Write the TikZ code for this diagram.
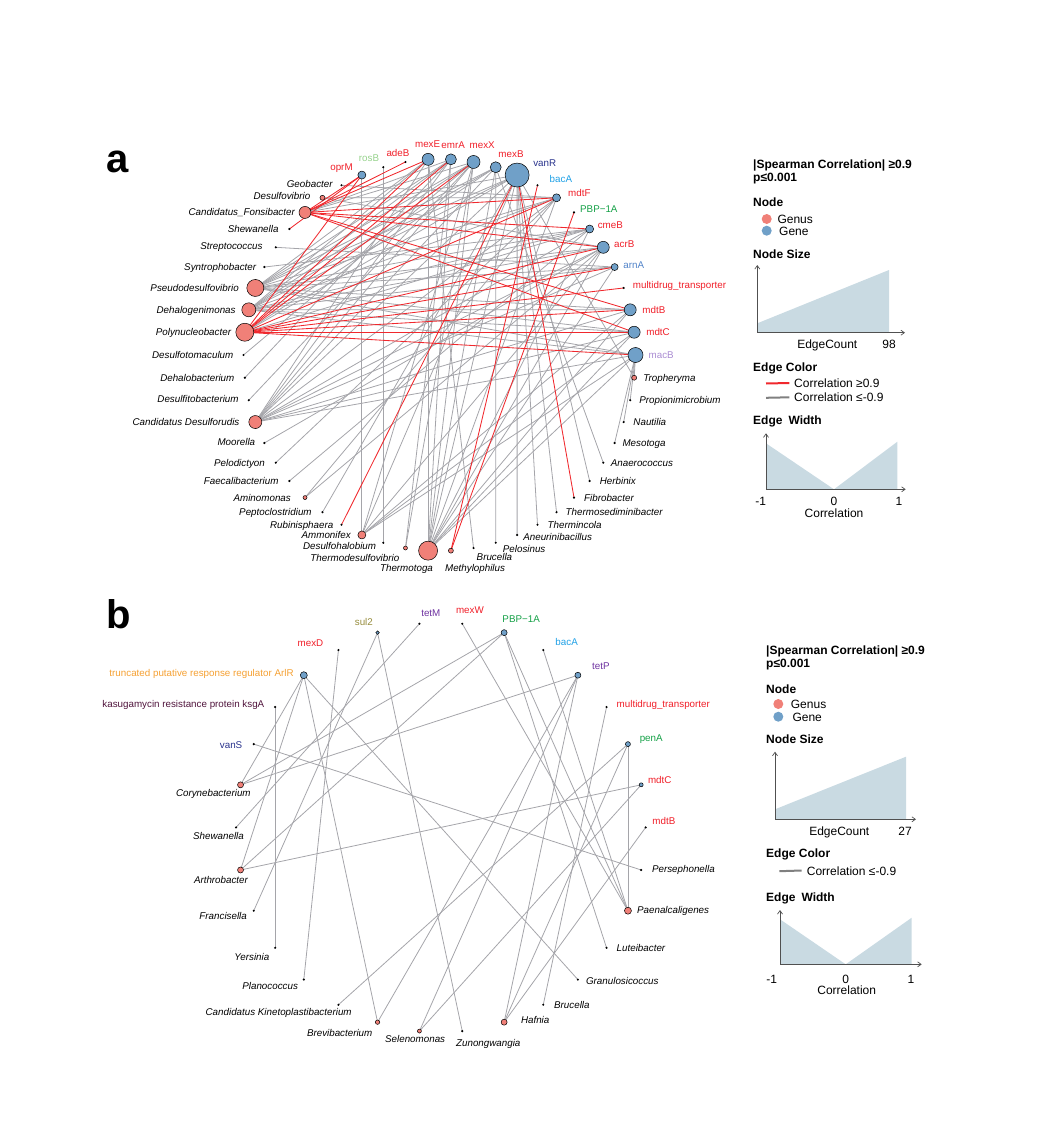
\documentclass[tikz,border=0pt]{standalone}
\usepackage{fontspec}
\setmainfont{Liberation Sans}
\usetikzlibrary{arrows.meta,backgrounds}

\definecolor{genusfill}{RGB}{240,128,120}
\definecolor{genefill}{RGB}{112,160,200}
\definecolor{legfill}{RGB}{201,218,226}
\definecolor{edgegrey}{RGB}{165,165,170}
\definecolor{edgered}{RGB}{240,40,45}
\definecolor{labred}{RGB}{240,30,40}
\definecolor{labnavy}{RGB}{40,50,140}
\definecolor{labsky}{RGB}{30,160,230}
\definecolor{labgreen}{RGB}{20,160,70}
\definecolor{lablgreen}{RGB}{150,210,140}
\definecolor{labblue}{RGB}{80,130,200}
\definecolor{labpurple}{RGB}{170,140,210}
\definecolor{labviolet}{RGB}{110,50,160}
\definecolor{labolive}{RGB}{150,140,60}
\definecolor{laborange}{RGB}{245,160,50}
\definecolor{labplum}{RGB}{80,20,60}
\definecolor{axisgrey}{RGB}{80,80,80}

\newcommand\lfont{\fontsize{9.8}{11}\selectfont}
\newcommand\gfont{\fontsize{12}{14}\selectfont}

\tikzset{
  genus/.style={circle, draw=black, line width=0.5pt, fill=genusfill, inner sep=0pt},
  gene/.style={circle, draw=black, line width=0.5pt, fill=genefill, inner sep=0pt},
  dotn/.style={circle, fill=black, inner sep=0pt},
  lab/.style={font=\lfont, inner sep=0pt, text height=7pt, text depth=0pt},
  gen/.style={lab, font=\lfont\itshape, text=black},
  lred/.style={lab, text=labred},
  lnavy/.style={lab, text=labnavy},
  lsky/.style={lab, text=labsky},
  lgreen/.style={lab, text=labgreen},
  llgreen/.style={lab, text=lablgreen},
  lblue/.style={lab, text=labblue},
  lpurple/.style={lab, text=labpurple},
  lviolet/.style={lab, text=labviolet},
  lolive/.style={lab, text=labolive},
  lorange/.style={lab, text=laborange},
  lplum/.style={lab, text=labplum},
  posedge/.style={draw=edgered, line width=0.85pt},
  negedge/.style={draw=edgegrey, line width=0.8pt},
  legtitle/.style={font=\gfont\bfseries, anchor=west, inner sep=0pt, text height=8.6pt, text depth=0pt},
  legtext/.style={font=\gfont, anchor=west, inner sep=0pt, text height=8.6pt, text depth=0pt},
  legaxis/.style={draw=axisgrey, line width=0.7pt, -{Straight Barb[length=3.5pt,width=5pt]}},
  legdot/.style={circle, inner sep=0pt, minimum size=10pt},
  panel/.style={font=\fontsize{40}{40}\selectfont\bfseries, inner sep=0pt}
}

\begin{document}
\begin{tikzpicture}[x=1pt,y=-1pt]
  \useasboundingbox (0,0) rectangle (1050,1142);

  % panel a
  \node[panel] (pa) at (118,162) {a};
  \coordinate (ca) at (439.5,355);
  \foreach \i/\txt/\r/\kind/\ls/\anc/\dx/\dy in {
    0/macB/7.5/gene/lpurple/west/13/0,
    1/Tropheryma/2.5/genus/gen/west/9/0,
    2/Propionimicrobium/1.2/dotn/gen/west/9/0,
    3/Nautilia/1.2/dotn/gen/west/9.6/0,
    4/Mesotoga/1.2/dotn/gen/west/7.7/0,
    5/Anaerococcus/1.2/dotn/gen/west/7.4/0,
    6/Herbinix/1.2/dotn/gen/west/10/0,
    7/Fibrobacter/1.2/dotn/gen/west/10/0,
    8/Thermosediminibacter/1.2/dotn/gen/west/9/0,
    9/Thermincola/1.2/dotn/gen/west/10/0,
    10/Aneurinibacillus/1.2/dotn/gen/west/6/2,
    11/Pelosinus/1.2/dotn/gen/west/7/6,
    12/Brucella/1.2/dotn/gen/west/3/9,
    13/Methylophilus/2.5/genus/gen/west/-6/17,
    14/Thermotoga/9.5/genus/gen/east/5/17,
    15/Thermodesulfovibrio/2/genus/gen/east/-6/9.5,
    16/Desulfohalobium/1.2/dotn/gen/east/-7/3,
    17/Ammonifex/4/genus/gen/east/-11/0,
    18/Rubinisphaera/1.2/dotn/gen/east/-8/0,
    19/Peptoclostridium/1.2/dotn/gen/east/-10.6/0,
    20/Aminomonas/2/genus/gen/east/-14/0,
    21/Faecalibacterium/1.2/dotn/gen/east/-10.7/0,
    22/Pelodictyon/1.2/dotn/gen/east/-10.7/0,
    23/Moorella/1.2/dotn/gen/east/-9/-1,
    24/Candidatus Desulforudis/6.5/genus/gen/east/-15.7/0,
    25/Desulfitobacterium/1.2/dotn/gen/east/-10/-1,
    26/Dehalobacterium/1.2/dotn/gen/east/-10.3/0,
    27/Desulfotomaculum/1.2/dotn/gen/east/-10/0,
    28/Polynucleobacter/9/genus/gen/east/-13.6/0,
    29/Dehalogenimonas/7/genus/gen/east/-13/0,
    30/Pseudodesulfovibrio/8.5/genus/gen/east/-16.4/0,
    31/Syntrophobacter/1.2/dotn/gen/east/-8/0,
    32/Streptococcus/1.2/dotn/gen/east/-13/-1,
    33/Shewanella/1.2/dotn/gen/east/-10.7/0,
    34/Candidatus\_Fonsibacter/6/genus/gen/east/-10/0,
    35/Desulfovibrio/2.5/genus/gen/east/-12/-1.7,
    36/Geobacter/1.2/dotn/gen/east/-8.7/-1.7,
    37/oprM/4/gene/lred/east/-9/-8,
    38/rosB/1.2/dotn/llgreen/east/-4/-9,
    39/adeB/1.2/dotn/lred/center/-7.5/-8.7,
    40/mexE/6/gene/lred/center/-0.5/-15,
    41/emrA/5.5/gene/lred/center/2.3/-14,
    42/mexX/6.5/gene/lred/center/8.7/-16.7,
    43/mexB/5.5/gene/lred/center/15.3/-13.7,
    44/vanR/12/gene/lnavy/west/16/-12,
    45/bacA/1.2/dotn/lsky/west/12/-6,
    46/mdtF/4/gene/lred/west/11.5/-5,
    47/PBP−1A/1.2/dotn/lgreen/west/6/-3,
    48/cmeB/4/gene/lred/west/8/-4,
    49/acrB/6/gene/lred/west/10.7/-3,
    50/arnA/3.5/gene/lblue/west/8.6/-1.7,
    51/multidrug\_transporter/1.2/dotn/lred/west/9/-3,
    52/mdtB/6/gene/lred/west/12/0,
    53/mdtC/6/gene/lred/west/12/0}{
    \pgfmathsetmacro\ang{\i*6.666667}
    \node[\kind, minimum size=2*\r] (a\i) at ([shift={(\ang:196)}]ca) {};
    \node[\ls, anchor=\anc] (la\i) at ([shift={(\dx,\dy)}]a\i.center) {\txt};
  }

  \begin{pgfonlayer}{background}
    % negative correlations
    \foreach \s/\t in {30/40,30/41,30/42,30/43,30/44,30/46,30/48,30/49,30/50,30/52,30/53,30/0,
      29/40,29/41,29/42,29/43,29/44,29/46,29/48,29/49,29/50,29/52,29/53,29/0,
      24/40,24/41,24/42,24/43,24/44,24/46,24/48,24/49,24/50,24/52,24/53,24/0,
      14/40,14/41,14/42,14/43,14/44,14/46,14/48,14/49,14/50,14/52,14/53,14/0,
      28/43,28/44,28/48,34/44,34/41,34/42,
      17/37,17/42,17/44,17/49,17/52,17/53,17/0,1/44,1/0,
      0/2,0/3,0/4,44/6,44/8,44/9,44/10,44/19,43/5,43/11,
      12/40,38/16,36/46,35/46,35/49,21/48,22/46,23/49,20/49,20/46,
      25/42,26/41,27/42,31/48,32/50,15/42,15/41}
      \draw[negedge] (a\s.center) -- (a\t.center);
    % positive correlations
    \foreach \s/\t in {34/37,34/39,34/40,34/46,34/48,34/49,34/52,34/53,33/37,
      28/37,28/40,28/41,28/42,28/46,28/49,28/50,28/51,28/52,28/53,28/0,
      13/45,13/47,18/44,7/44}
      \draw[posedge] (a\s.center) -- (a\t.center);
  \end{pgfonlayer}

  % legend a
  \node[legtitle] (lta) at (753,164) {|Spearman Correlation| ≥0.9};
  \node[legtitle] (lpa) at (753,177.3) {p≤0.001};
  \node[legtitle] (lna) at (753,202.3) {Node};
  \node[legdot, fill=genusfill] (lga) at (766.7,219) {};
  \node[legtext] at (777.3,219) {Genus};
  \node[legdot, fill=genefill] (lea) at (766.7,230.7) {};
  \node[legtext] at (779,230.7) {Gene};
  \node[legtitle] at (753,254) {Node Size};
  \fill[legfill] (757.3,332.7) -- (757.3,323.3) -- (889,270) -- (889,332.7) -- cycle;
  \draw[legaxis] (757.3,332.7) -- (757.3,265);
  \draw[legaxis] (757.3,332.7) -- (905,332.7);
  \node[legtext, anchor=center] at (827.3,344) {EdgeCount};
  \node[legtext, anchor=center] at (889,344) {98};
  \node[legtitle] at (753,367.3) {Edge Color};
  \draw[edgered, line width=2pt] (766,383.5) -- (789.3,383);
  \node[legtext] at (794,382.7) {Correlation ≥0.9};
  \draw[gray, line width=2pt] (766,397.8) -- (789.3,397.3);
  \node[legtext] at (794,397.3) {Correlation ≤-0.9};
  \node[legtitle] at (753,420) {Edge\enspace Width};
  \fill[legfill] (766,489.3) -- (766,443.3) -- (834,489.3) -- (897.3,441.7) -- (897.3,489.3) -- cycle;
  \draw[legaxis] (766,489.3) -- (766,433.3);
  \draw[legaxis] (766,489.3) -- (905.7,489.3);
  \node[legtext, anchor=center] at (760.7,500.7) {-1};
  \node[legtext, anchor=center] at (834,500.7) {0};
  \node[legtext, anchor=center] at (899,500.7) {1};
  \node[legtext, anchor=center] at (834,512.7) {Correlation};

  % panel b
  \node[panel] (pb) at (119,614) {b};
  \coordinate (cb) at (440.85,827.4);
  \foreach \i/\txt/\r/\kind/\ls/\anc/\dx/\dy in {
    0/mdtB/1.2/dotn/lred/west/6.6/-6.3,
    1/Persephonella/1.2/dotn/gen/west/10.7/-0.7,
    2/Paenalcaligenes/3.5/genus/gen/west/9/-1,
    3/Luteibacter/1.2/dotn/gen/west/10/0,
    4/Granulosicoccus/1.2/dotn/gen/west/8/1,
    5/Brucella/1.2/dotn/gen/west/10.7/0.3,
    6/Hafnia/3/genus/gen/west/16.7/-2.6,
    7/Zunongwangia/1.2/dotn/gen/west/-6.3/11.7,
    8/Selenomonas/2/genus/gen/center/-4.3/8.4,
    9/Brevibacterium/2.2/genus/gen/east/-5/11,
    10/Candidatus Kinetoplastibacterium/1.2/dotn/gen/east/13.4/7,
    11/Planococcus/1.2/dotn/gen/east/-5.7/6.7,
    12/Yersinia/1.2/dotn/gen/east/-5.7/9.4,
    13/Francisella/1.2/dotn/gen/east/-6.7/5.7,
    14/Arthrobacter/3/genus/gen/east/7.6/10,
    15/Shewanella/1.2/dotn/gen/east/8/8.4,
    16/Corynebacterium/3/genus/gen/east/10.3/8,
    17/vanS/1.2/dotn/lnavy/east/-11.3/1,
    18/kasugamycin resistance protein ksgA/1.2/dotn/lplum/east/-10.7/-3.4,
    19/truncated putative response regulator ArlR/3.5/gene/lorange/east/-10/-2.6,
    20/mexD/1.2/dotn/lred/east/-15/-7.3,
    21/sul2/1.8/gene/lolive/center/-13.7/-10.7,
    22/tetM/1.2/dotn/lviolet/center/11.4/-10.4,
    23/mexW/1.2/dotn/lred/center/7.7/-13.7,
    24/PBP−1A/3/gene/lgreen/center/17/-13.4,
    25/bacA/1.2/dotn/lsky/center/23.4/-8,
    26/tetP/3/gene/lviolet/center/23/-9.3,
    27/multidrug\_transporter/1.2/dotn/lred/west/10/-3.4,
    28/penA/2.5/gene/lgreen/west/11.6/-6.3,
    29/mdtC/2/gene/lred/west/6.7/-5.3}{
    \pgfmathsetmacro\ang{\i*12}
    \node[\kind, minimum size=2*\r] (b\i) at ([shift={(\ang:204.8)}]cb) {};
    \node[\ls, anchor=\anc] (lb\i) at ([shift={(\dx,\dy)}]b\i.center) {\txt};
  }

  \begin{pgfonlayer}{background}
    \foreach \s/\t in {19/16,19/14,19/9,19/4,18/12,17/1,20/11,21/13,21/7,22/15,23/2,
      24/16,24/14,24/3,24/2,25/2,26/16,26/9,26/8,26/6,27/5,28/2,28/10,28/6,
      29/14,29/8,0/6}
      \draw[negedge] (b\s.center) -- (b\t.center);
  \end{pgfonlayer}

  % legend b
  \node[legtitle] (ltb) at (766,650) {|Spearman Correlation| ≥0.9};
  \node[legtitle] (lpb) at (766,663.3) {p≤0.001};
  \node[legtitle] (lnb) at (766,689) {Node};
  \node[legdot, fill=genusfill] (lgb) at (778.3,704) {};
  \node[legtext] at (790.7,704) {Genus};
  \node[legdot, fill=genefill] (leb) at (778.3,716.7) {};
  \node[legtext] at (792.3,716.7) {Gene};
  \node[legtitle] at (766,739.3) {Node Size};
  \fill[legfill] (775,819.3) -- (775,809.3) -- (906,756.7) -- (906,819.3) -- cycle;
  \draw[legaxis] (775,819.3) -- (775,751.7);
  \draw[legaxis] (775,819.3) -- (916,819.3);
  \node[legtext, anchor=center] at (839.3,830.7) {EdgeCount};
  \node[legtext, anchor=center] at (905,830.7) {27};
  \node[legtitle] at (766,853.3) {Edge Color};
  \draw[gray, line width=2pt] (779.3,871.2) -- (801.7,870.5);
  \node[legtext] at (806.7,870.7) {Correlation ≤-0.9};
  \node[legtitle] at (766,897.3) {Edge\enspace Width};
  \fill[legfill] (780,964.3) -- (780,919.3) -- (845.7,964.3) -- (911.7,917.7) -- (911.7,964.3) -- cycle;
  \draw[legaxis] (780,964.3) -- (780,910);
  \draw[legaxis] (780,964.3) -- (921.7,964.3);
  \node[legtext, anchor=center] at (771.7,979.3) {-1};
  \node[legtext, anchor=center] at (845.7,979.3) {0};
  \node[legtext, anchor=center] at (911,979.3) {1};
  \node[legtext, anchor=center] at (846.7,990) {Correlation};
\end{tikzpicture}
\end{document}
